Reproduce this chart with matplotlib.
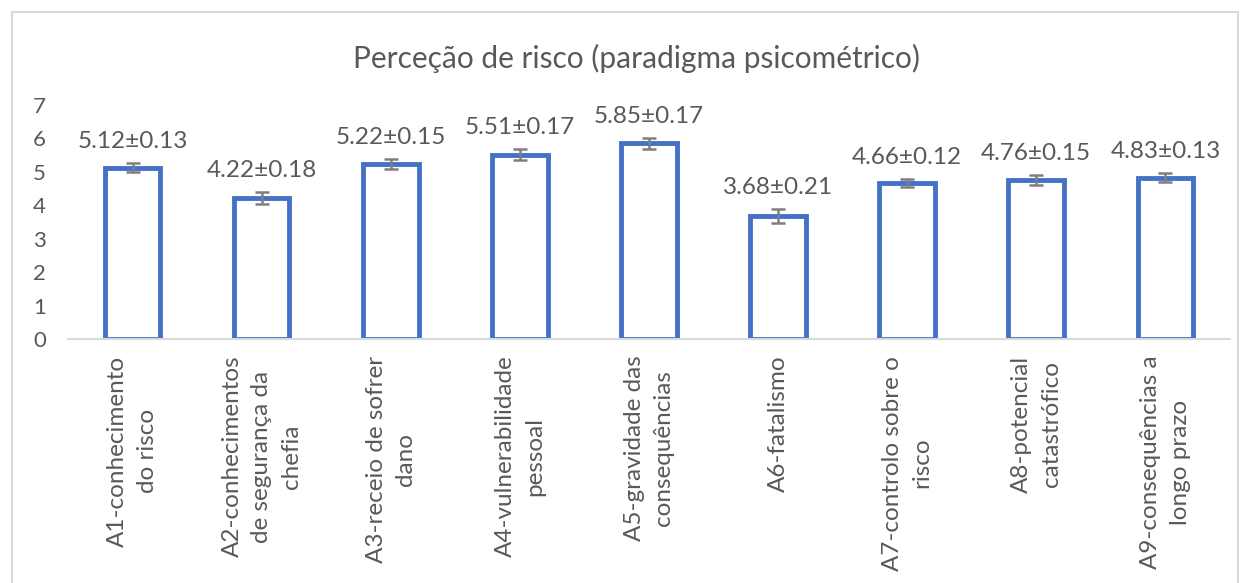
import numpy as np
import matplotlib
matplotlib.use('Agg')
import matplotlib.pyplot as plt
from matplotlib.patches import Rectangle

plt.rcParams['font.family'] = ['Lato', 'DejaVu Sans']

# data
categories = ['A1-conhecimento\ndo risco',
              'A2-conhecimentos\nde segurança da\nchefia',
              'A3-receio de sofrer\ndano',
              'A4-vulnerabilidade\npessoal',
              'A5-gravidade das\nconsequências',
              'A6-fatalismo',
              'A7-controlo sobre o\nrisco',
              'A8-potencial\ncatastrófico',
              'A9-consequências a\nlongo prazo']
means = [5.12, 4.22, 5.22, 5.51, 5.85, 3.68, 4.66, 4.76, 4.83]
errs  = [0.13, 0.18, 0.15, 0.17, 0.17, 0.21, 0.12, 0.15, 0.13]

txt_col  = '#595959'
bar_col  = '#4472C4'
err_col  = '#7f7f7f'
grid_col = '#d9d9d9'

fig = plt.figure(figsize=(12.48, 5.83), dpi=100)
ax  = fig.add_axes([0.0545, 0.4185, 0.931, 0.4015])

x = np.arange(len(categories))
ax.bar(x, means, width=0.43, facecolor='white', edgecolor=bar_col, linewidth=3.5, zorder=2)
ax.errorbar(x, means, yerr=errs, fmt='none', ecolor=err_col, elinewidth=1.8,
            capsize=5, capthick=1.8, zorder=3)

for xi, m, e in zip(x, means, errs):
    ax.annotate('%.2f±%.2f' % (m, e), (xi, m + e), xytext=(0, 8),
                textcoords='offset points', ha='center', va='bottom',
                fontsize=17.5, color=txt_col)

ax.set_xlim(-0.5, len(categories) - 0.5)
ax.set_ylim(0, 7)
ax.set_yticks(range(0, 8))
ax.set_xticks(x)
ax.set_xticklabels(categories, rotation=90, ha='center', va='top',
                   multialignment='center', fontsize=17.5, color=txt_col,
                   linespacing=1.5)
ax.tick_params(axis='y', length=0, labelsize=16, labelcolor=txt_col, pad=16)
ax.tick_params(axis='x', length=0, pad=12)
for s in ['top', 'right', 'left']:
    ax.spines[s].set_visible(False)
ax.spines['bottom'].set_color(grid_col)
ax.spines['bottom'].set_linewidth(1.5)

fig.text(0.51, 0.9, 'Perceção de risco (paradigma psicométrico)', ha='center',
         va='center', fontsize=21.5, color=txt_col)

fig.patches.append(Rectangle((12 / 1248, -0.05), 1226 / 1248, 1.0 - 12 / 583 + 0.05,
                             transform=fig.transFigure, fill=False,
                             edgecolor=grid_col, linewidth=1.5))

fig.savefig('out.png', dpi=100)
